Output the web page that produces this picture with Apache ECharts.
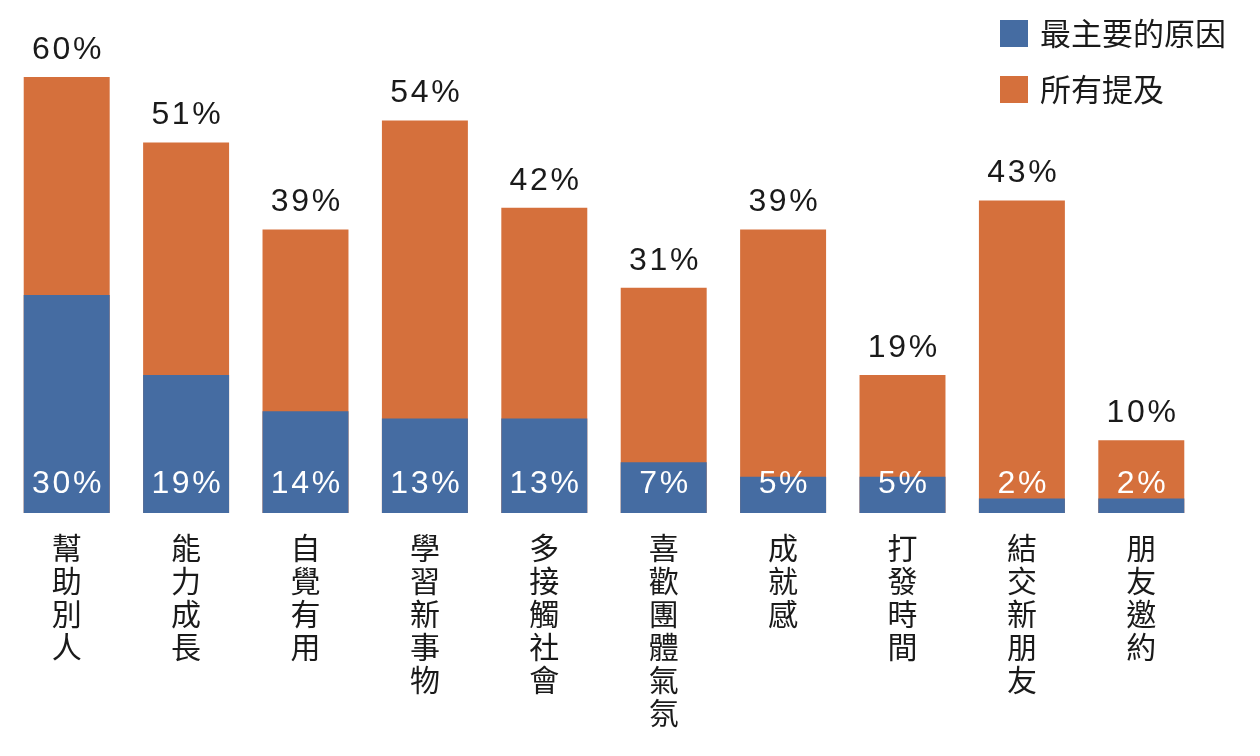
<!DOCTYPE html>
<html><head><meta charset="utf-8">
<script src="https://cdn.jsdelivr.net/npm/echarts@6/dist/echarts.min.js"></script>
<style>html,body{margin:0;padding:0;background:#fff}#c{width:1260px;height:756px}</style>
</head><body><div id="c"></div>
<script>
const categories = ['幫助別人','能力成長','自覺有用','學習新事物','多接觸社會','喜歡團體氣氛','成就感','打發時間','結交新朋友','朋友邀約'];
const mainReason = [30,19,14,13,13,7,5,5,2,2];
const allMentioned = [60,51,39,54,42,31,39,19,43,10];
const seriesNames = ['最主要的原因','所有提及'];

const BLUE = '#456ca2', ORANGE = '#d5703c';
const FONT = '"Liberation Sans", Arial, "Noto Sans CJK TC", sans-serif';
const spaced = s => s.split('').join('\u200A');
const chart = echarts.init(document.getElementById('c'), null, {renderer:'canvas'});
chart.setOption({
  animation:false,
  backgroundColor:'#fff',
  legend:{
    data:seriesNames, orient:'vertical', left:995, top:13,
    itemWidth:28, itemHeight:27, itemGap:25,
    icon:'rect',
    textStyle:{fontSize:31, color:'#1a1a1a', fontFamily:'"Noto Sans CJK TC", sans-serif', padding:[0,0,0,7]}
  },
  grid:{left:7, right:59, top:77, bottom:243, containLabel:false},
  xAxis:{
    type:'category', data:categories,
    axisLine:{show:false}, axisTick:{show:false},
    axisLabel:{
      interval:0, margin:18, fontSize:30, lineHeight:33, color:'#1a1a1a',
      fontFamily:'"Noto Sans CJK TC", sans-serif', verticalAlign:'top',
      formatter:v=>v.split('').join('\n')
    }
  },
  yAxis:{type:'value', min:0, max:60, show:false, splitLine:{show:false}},
  series:[
    {name:seriesNames[1], type:'bar', data:allMentioned, barWidth:'72%', barGap:'-100%',
     itemStyle:{color:ORANGE},
     label:{show:true, position:'top', distance:11, formatter:p=>spaced(p.value+'%'), fontSize:32, color:'#1a1a1a', fontFamily:FONT}},
    {name:seriesNames[0], type:'bar', data:mainReason, barWidth:'72%', barGap:'-100%',
     itemStyle:{color:BLUE},
     label:{show:true, position:'insideBottom', distance:13, formatter:p=>spaced(p.value+'%'), fontSize:32, color:'#fff', fontFamily:FONT}}
  ]
});
</script></body></html>
